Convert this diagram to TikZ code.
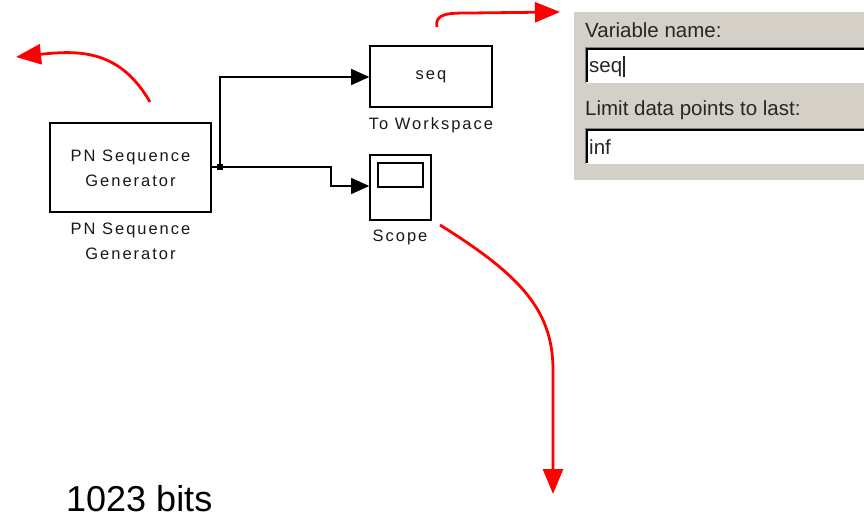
\documentclass[tikz,border=0pt]{standalone}
\usepackage{fontspec}
\setmainfont{Liberation Sans}
\newfontfamily\simfont[LetterSpace=12]{Liberation Sans}
\usetikzlibrary{arrows.meta}
\definecolor{dlggray}{HTML}{D4D0C8}
\definecolor{redarr}{HTML}{FF0000}
\tikzset{
  blk/.style={draw=black, line width=1.6pt, fill=white, inner sep=0pt},
  simtxt/.style={font=\simfont\fontsize{16.5}{25}\selectfont, align=center, inner sep=0pt, text=black!90},
  sig/.style={line width=1.5pt, -{Triangle[length=18pt,width=16pt]}},
  wire/.style={line width=1.5pt},
  junc/.style={fill=black, draw=none, minimum size=6pt, inner sep=0pt, rectangle},
  redarrow/.style={draw=redarr, line width=2.8pt, -{Triangle[length=25pt,width=20pt]}},
  dlgtxt/.style={font=\fontsize{20.5}{22}\selectfont, anchor=west, inner sep=0pt, text=black!85},
}
\begin{document}
\begin{tikzpicture}[x=1pt,y=-1pt]
\useasboundingbox (0,0) rectangle (864,518);
% blocks
\node[blk, minimum width=161pt, minimum height=89pt] (pn) at (130.5,167.5) {};
\node[simtxt] (pntxt) at (130.5,168) {PN Sequence\\Generator};
\node[simtxt] (pnlbl) at (130.5,241) {PN Sequence\\Generator};
\node[blk, minimum width=122pt, minimum height=61pt] (ws) at (431,76.5) {};
\node[simtxt] (wstxt) at (431,77) {seq};
\node[simtxt] (wslbl) at (431,125) {To Workspace};
\node[blk, minimum width=61pt, minimum height=65pt] (sc) at (400.5,187.5) {};
\node[draw=black, line width=1.5pt, minimum width=45pt, minimum height=24pt, inner sep=0pt] (scin) at (400.5,175) {};
\node[simtxt] (sclbl) at (400,237) {Scope};
% wires
\node[junc] (j) at (220,167) {};
\draw[wire] (pn.east |- j) -- (j.center);
\draw[sig] (j.center) |- (ws.west |- 0,77);
\draw[sig] (j.center) -- (331,167) |- (sc.west |- 0,186);
% dialog
\fill[dlggray] (574,12) rectangle (864,180);
\node[dlgtxt] (vn) at (585,30) {Variable name:};
\fill[white] (585,47) rectangle (864,83);
\draw[gray, line width=1.2pt] (585.5,83) -- (585.5,47.5) -- (864,47.5);
\draw[black, line width=1.2pt] (587,82) -- (587,49) -- (864,49);
\node[dlgtxt] (seqv) at (589,67) {seq\kern0.5pt\rule[-5pt]{1.8pt}{21pt}};
\node[dlgtxt] (lim) at (585,110) {Limit data points to last:};
\fill[white] (585,128) rectangle (864,164);
\draw[gray, line width=1.2pt] (585.5,164) -- (585.5,128.5) -- (864,128.5);
\draw[black, line width=1.2pt] (587,163) -- (587,130) -- (864,130);
\node[dlgtxt] (infv) at (589,147) {inf};
% red arrows
\coordinate (r1s) at (150,102);
\coordinate (r1e) at (16,57);
\draw[redarrow] (r1s) .. controls (120,50) and (80,50) .. (r1e);
\coordinate (r2s) at (437,27);
\coordinate (r2m) at (470,13);
\coordinate (r2e) at (560,12);
\draw[redarrow] (r2s) .. controls (434,13) and (450,13) .. (r2m) -- (r2e);
\coordinate (r3s) at (440,225);
\coordinate (r3m) at (553,370);
\coordinate (r3e) at (553,494);
\draw[redarrow] (r3s) .. controls (520,275) and (553,310) .. (r3m) -- (r3e);
% bottom text
\node[font=\fontsize{36}{38}\selectfont, anchor=west, inner sep=0pt] (bits) at (66,499) {1023 bits};
\end{tikzpicture}
\end{document}
